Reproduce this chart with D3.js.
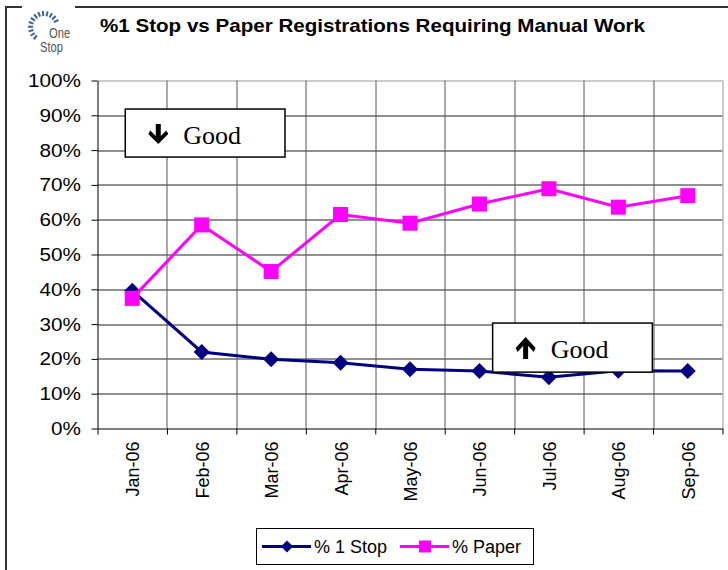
<!DOCTYPE html>
<html>
<head>
<meta charset="utf-8">
<script src="https://cdn.jsdelivr.net/npm/d3@7"></script>
<style>
  body { margin: 0; background: #fff; }
  svg { display: block; font-family: "Liberation Sans", Arial, sans-serif; }
</style>
</head>
<body>
<div id="chart"></div>
<script>
// month labels + the two series (percent)
const months = ["Jan-06", "Feb-06", "Mar-06", "Apr-06", "May-06", "Jun-06", "Jul-06", "Aug-06", "Sep-06"];
const oneStop = [39.6, 22.0, 19.9, 18.9, 17.0, 16.5, 14.7, 16.6, 16.5];
const paper = [37.4, 58.5, 45.1, 61.5, 59.0, 64.5, 68.9, 63.6, 66.9];
const yTicks = [0, 10, 20, 30, 40, 50, 60, 70, 80, 90, 100];

// "Good" callout boxes, given in category slots / percent
const goodBoxes = [
  { x0: 0.4, x1: 2.7, top: 91.8, bottom: 78.0, dir: "down" },
  { x0: 5.69, x1: 7.99, top: 30.3, bottom: 16.2, dir: "up" }
];

const W = 728, H = 570;
const margin = { top: 80.5, right: 5.5, bottom: 141.5, left: 97.5 },
  width = W - margin.left - margin.right,
  height = H - margin.top - margin.bottom;

const svg = d3.select("#chart").append("svg")
  .attr("width", W)
  .attr("height", H);

// outer frame (broken at the logo)
svg.append("path")
  .attr("d", "M22,7 H6 V572 M75,7 H730")
  .attr("fill", "none")
  .attr("stroke", "#333")
  .attr("stroke-width", 2);

// logo - dotted ring + text
const logo = svg.append("g").attr("transform", "translate(44,27)");
d3.range(13).forEach(function (i) {
  const a = (130 + i * 17) * Math.PI / 180;
  logo.append("line")
    .attr("x1", Math.cos(a) * 11).attr("y1", Math.sin(a) * 11)
    .attr("x2", Math.cos(a) * 16).attr("y2", Math.sin(a) * 16)
    .attr("stroke", "#3d5f99")
    .attr("stroke-width", 2);
});
logo.append("text").attr("transform", "translate(5,11) scale(0.8,1)")
  .style("font-size", "14px").style("fill", "#555").text("One");
logo.append("text").attr("transform", "translate(-4,25) scale(0.8,1)")
  .style("font-size", "14px").style("fill", "#555").text("Stop");

// title
svg.append("text")
  .attr("x", 100)
  .attr("y", 32)
  .attr("textLength", 545)
  .attr("lengthAdjust", "spacingAndGlyphs")
  .style("font-size", "18.5px")
  .style("font-weight", "bold")
  .text("%1 Stop vs Paper Registrations Requiring Manual Work");

const g = svg.append("g")
  .attr("transform", `translate(${margin.left}, ${margin.top})`);

const xBand = d3.scaleBand().domain(months).range([0, width]).padding(0);
const xSlot = d3.scaleLinear().domain([0, months.length]).range([0, width]);
const yScale = d3.scaleLinear().domain([0, 100]).range([height, 0]);
const xc = d => xBand(d) + xBand.bandwidth() / 2;

// gridlines
g.selectAll(".hgrid")
  .data(yTicks.slice(1))
  .enter().append("line")
  .attr("x1", 0).attr("x2", width)
  .attr("y1", d => Math.round(yScale(d)) + 0.5)
  .attr("y2", d => Math.round(yScale(d)) + 0.5)
  .attr("stroke", d => d === 100 ? "#999" : "#222")
  .attr("stroke-width", 1);

g.selectAll(".vgrid")
  .data(d3.range(1, months.length + 1))
  .enter().append("line")
  .attr("x1", d => Math.round(xSlot(d)) + 0.5)
  .attr("x2", d => Math.round(xSlot(d)) + 0.5)
  .attr("y1", 0).attr("y2", height)
  .attr("stroke", d => d === months.length ? "#999" : "#555")
  .attr("stroke-width", 1);

// y axis
const yAxis = g.append("g")
  .call(d3.axisLeft(yScale).tickValues(yTicks).tickFormat(d => d + "%").tickSize(6).tickSizeOuter(0));
yAxis.selectAll("text")
  .style("font-size", "18.5px")
  .style("font-family", "Liberation Sans, Arial, sans-serif")
  .attr("x", -16.5)
  .attr("fill", "#000")
  .each(function () {
    // reference labels are a bit wider than plain Arial
    const w = this.getComputedTextLength();
    d3.select(this).attr("textLength", w * 1.12).attr("lengthAdjust", "spacingAndGlyphs");
  });

// x axis - ticks at category boundaries
const xAxis = g.append("g")
  .attr("transform", `translate(0, ${height})`)
  .call(d3.axisBottom(xSlot).tickValues(d3.range(0, months.length + 1)).tickFormat("").tickSize(6).tickSizeOuter(0));
xAxis.selectAll("line, path").attr("stroke", "#000");
yAxis.selectAll("line, path").attr("stroke", "#000");

g.selectAll(".xlab")
  .data(months)
  .enter().append("text")
  .attr("transform", d => `translate(${xc(d) + 7}, ${height + 13}) rotate(-90)`)
  .attr("text-anchor", "end")
  .style("font-size", "18px")
  .text(d => d);

// lines
const line = d3.line()
  .x((d, i) => xc(months[i]))
  .y(d => yScale(d));

g.append("path")
  .datum(oneStop)
  .attr("d", line)
  .attr("fill", "none")
  .attr("stroke", "#000080")
  .attr("stroke-width", 3);

g.selectAll(".diamond")
  .data(oneStop)
  .enter().append("path")
  .attr("d", "M0,-8 L8,0 L0,8 L-8,0 Z")
  .attr("transform", (d, i) => `translate(${xc(months[i])}, ${yScale(d)})`)
  .attr("fill", "#000080");

g.append("path")
  .datum(paper)
  .attr("d", line)
  .attr("fill", "none")
  .attr("stroke", "#ff00ff")
  .attr("stroke-width", 3);

g.selectAll(".square")
  .data(paper)
  .enter().append("rect")
  .attr("x", (d, i) => xc(months[i]) - 7.5)
  .attr("y", d => yScale(d) - 7.5)
  .attr("width", 15)
  .attr("height", 15)
  .attr("fill", "#ff00ff");

// Good boxes
goodBoxes.forEach(function (b) {
  const bx = xSlot(b.x0), by = yScale(b.top);
  const bw = xSlot(b.x1) - bx, bh = yScale(b.bottom) - by;
  const box = g.append("g").attr("transform", `translate(${bx}, ${by})`);
  box.append("rect")
    .attr("width", bw).attr("height", bh)
    .attr("fill", "#fff")
    .attr("stroke", "#000")
    .attr("stroke-width", 1.5);
  // arrow (drawn pointing down then flipped for up)
  const arrow = "M-2.5,-10 H2.5 V2 L8,-3.5 L10,0 L0,10 L-10,0 L-8,-3.5 L-2.5,2 Z";
  box.append("path")
    .attr("d", arrow)
    .attr("transform", `translate(33, 25) ${b.dir === "up" ? "scale(1,-1.1)" : ""}`)
    .attr("fill", "#000");
  box.append("text")
    .attr("x", 58).attr("y", 35)
    .style("font-family", "Liberation Serif, Times New Roman, serif")
    .style("font-size", "26px")
    .text("Good");
});

// legend
const leg = svg.append("g").attr("transform", "translate(256, 528)");
leg.append("rect")
  .attr("x", 0.5).attr("y", 0.5)
  .attr("width", 277).attr("height", 36)
  .attr("fill", "#fff")
  .attr("stroke", "#000");

const legItems = [
  { name: "% 1 Stop", color: "#000080", shape: "diamond", x: 6 },
  { name: "% Paper", color: "#ff00ff", shape: "square", x: 144 }
];
legItems.forEach(function (it) {
  leg.append("line")
    .attr("x1", it.x).attr("x2", it.x + 49)
    .attr("y1", 18.5).attr("y2", 18.5)
    .attr("stroke", it.color).attr("stroke-width", 3);
  if (it.shape === "diamond") {
    leg.append("path")
      .attr("d", "M0,-6 L6,0 L0,6 L-6,0 Z")
      .attr("transform", `translate(${it.x + 25}, 18.5)`)
      .attr("fill", it.color);
  } else {
    leg.append("rect")
      .attr("x", it.x + 19).attr("y", 12.5)
      .attr("width", 12).attr("height", 12)
      .attr("fill", it.color);
  }
  leg.append("text")
    .attr("x", it.x + 52).attr("y", 25)
    .style("font-size", "18px")
    .text(it.name);
});
</script>
</body>
</html>
